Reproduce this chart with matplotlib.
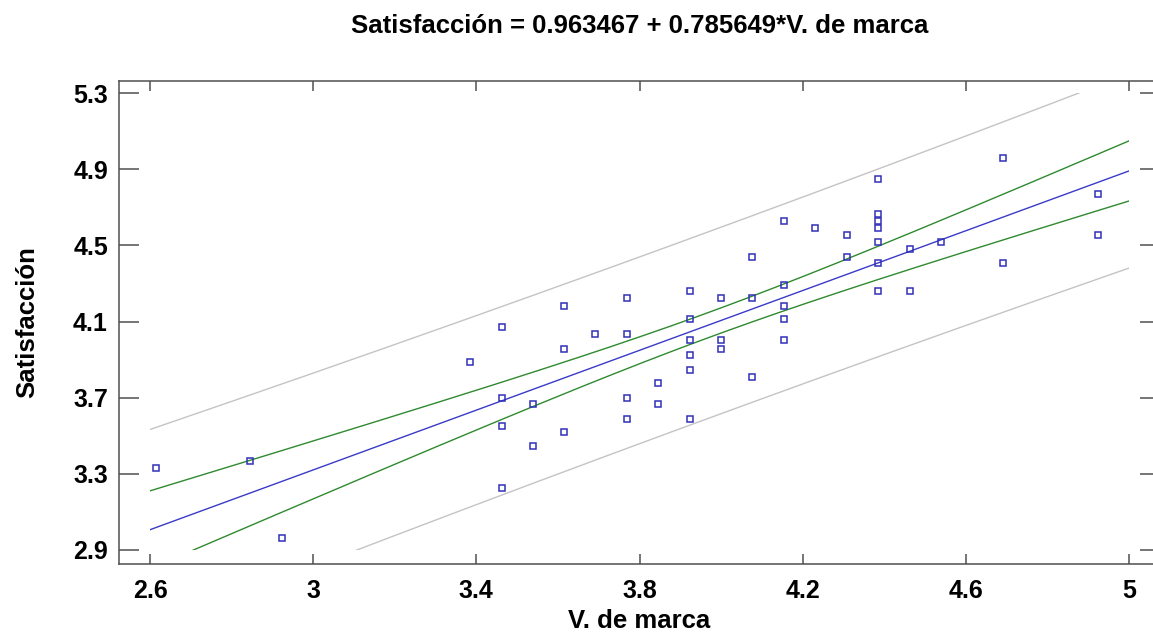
import matplotlib
matplotlib.use('Agg')
import matplotlib.pyplot as plt
from matplotlib.patches import Rectangle
import numpy as np

plt.rcParams['font.family'] = ['Liberation Sans', 'DejaVu Sans']
plt.rcParams['font.weight'] = 'bold'

# data
marca = [2.615, 2.846, 2.923, 3.385,
         3.462, 3.462, 3.462, 3.462,
         3.538, 3.538,
         3.615, 3.615, 3.615,
         3.692,
         3.769, 3.769, 3.769, 3.769,
         3.846, 3.846,
         3.923, 3.923, 3.923, 3.923, 3.923, 3.923,
         4.0, 4.0, 4.0,
         4.077, 4.077, 4.077,
         4.154, 4.154, 4.154, 4.154, 4.154,
         4.231,
         4.308, 4.308,
         4.385, 4.385, 4.385, 4.385, 4.385, 4.385, 4.385,
         4.462, 4.462,
         4.538,
         4.692, 4.692,
         4.923, 4.923]
satisf = [3.333, 3.368, 2.961, 3.886,
          4.070, 3.697, 3.553, 3.223,
          3.665, 3.445,
          4.180, 3.956, 3.518,
          4.035,
          4.222, 4.035, 3.698, 3.588,
          3.776, 3.665,
          4.259, 4.112, 4.002, 3.923, 3.844, 3.588,
          4.222, 4.002, 3.956,
          4.438, 4.222, 3.810,
          4.628, 4.292, 4.180, 4.112, 4.002,
          4.593,
          4.553, 4.438,
          4.849, 4.663, 4.628, 4.593, 4.518, 4.406, 4.259,
          4.483, 4.259,
          4.518,
          4.959, 4.406,
          4.772, 4.553]

intercept = 0.963467
slope = 0.785649
xticks = [2.6, 3, 3.4, 3.8, 4.2, 4.6, 5]
yticks = [2.9, 3.3, 3.7, 4.1, 4.5, 4.9, 5.3]

x = np.array(marca)
y = np.array(satisf)
n = len(x)
resid = y - (intercept + slope * x)
s = np.sqrt(np.sum(resid ** 2) / (n - 2))
sxx = np.sum((x - x.mean()) ** 2)
t = 2.0066  # t(0.975, 52)

xs = np.linspace(2.6, 5.0, 300)
fit = intercept + slope * xs
se_mean = s * np.sqrt(1 / n + (xs - x.mean()) ** 2 / sxx)
se_pred = s * np.sqrt(1 + 1 / n + (xs - x.mean()) ** 2 / sxx)

fig = plt.figure(figsize=(11.53, 6.34), dpi=100)
ax = fig.add_axes([119 / 1153, 70 / 634, 1041 / 1153, 483.3 / 634])

clip = Rectangle((2.6, 2.9), 2.4, 2.4, transform=ax.transData)
lines = []
lines += ax.plot(xs, fit + t * se_pred, color='#c4c4c4', lw=1.0)
lines += ax.plot(xs, fit - t * se_pred, color='#c4c4c4', lw=1.0)
lines += ax.plot(xs, fit + t * se_mean, color='#2f8a2f', lw=1.0)
lines += ax.plot(xs, fit - t * se_mean, color='#2f8a2f', lw=1.0)
lines += ax.plot(xs, fit, color='#3a3ac8', lw=1.0)
for ln in lines:
    ln.set_clip_path(clip)

ax.plot(x, y, 's', mfc='none', mec='#3030b8', ms=4.3, mew=1.1)

ax.set_xlim(2.524, 5.076)
ax.set_ylim(2.826, 5.366)
ax.set_xticks(xticks)
ax.set_xticklabels(['2.6', '3', '3.4', '3.8', '4.2', '4.6', '5'])
ax.set_yticks(yticks)
ax.tick_params(axis='x', direction='in', length=7, width=1.1, color='#505050',
               top=True, labelsize=18, pad=11)
ax.tick_params(axis='y', direction='in', length=14.5, width=1.1, color='#505050',
               right=True, labelsize=18, pad=8)
for sp in ax.spines.values():
    sp.set_color('#505050')
    sp.set_linewidth(1.1)

ax.set_xlabel('V. de marca', fontsize=18.5, fontweight='bold', labelpad=4)
ax.set_ylabel('Satisfacción', fontsize=18.5, fontweight='bold', labelpad=24)
ax.set_title('Satisfacción = 0.963467 + 0.785649*V. de marca', fontsize=18.5,
             fontweight='bold', pad=34)

fig.savefig('out.png', dpi=100)
